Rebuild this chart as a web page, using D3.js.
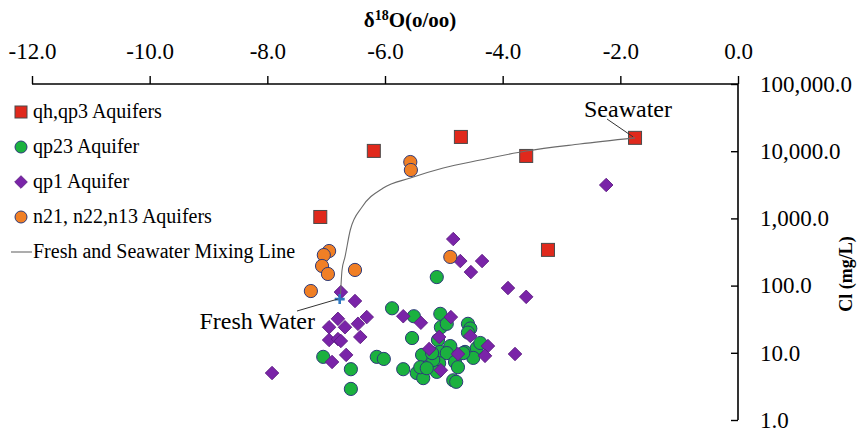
<!DOCTYPE html>
<html>
<head>
<meta charset="utf-8">
<script src="https://cdn.jsdelivr.net/npm/d3@7"></script>
<style>
body { margin: 0; background: #fff; }
svg { font-family: "Liberation Serif", "Times New Roman", serif; }
</style>
</head>
<body>
<div id="chart"></div>
<script>
var W = 860, H = 431;

// [d18O, Cl]
var qh = [[-1.75, 15800], [-3.60, 8500], [-4.71, 16300], [-6.19, 10100], [-7.10, 1050], [-3.23, 340]];

var qp23 = [[-5.88, 46], [-5.51, 35], [-5.54, 16.6], [-7.05, 8.7], [-6.58, 5.7], [-6.58, 2.9],
	[-6.14, 8.7], [-6.02, 8.1], [-5.69, 5.7], [-5.46, 5.0], [-5.12, 134], [-5.06, 38],
	[-5.05, 24], [-4.95, 27], [-4.59, 27], [-4.55, 23], [-4.59, 20], [-5.37, 9.3],
	[-5.35, 4.2], [-5.10, 15.5], [-5.06, 10.3], [-4.89, 12.6], [-4.95, 9.9], [-5.27, 6.1],
	[-5.08, 7.0], [-5.12, 5.2], [-4.81, 7.3], [-4.76, 6.1], [-4.64, 10.3], [-4.44, 11.8],
	[-4.50, 8.4], [-4.38, 14.0], [-4.84, 3.9], [-4.79, 3.7], [-5.18, 7.8], [-5.40, 6.1],
	[-5.20, 9.9], [-4.67, 9.9], [-5.29, 5.9]];

var qp1 = [[-6.75, 80], [-6.51, 59], [-6.31, 34], [-6.46, 27], [-6.80, 32], [-6.68, 24],
	[-6.95, 24], [-6.95, 15.5], [-6.80, 16.0], [-6.75, 15.0], [-6.42, 17.2], [-6.66, 9.3],
	[-6.90, 7.3], [-7.92, 5.0], [-5.69, 35], [-5.39, 28], [-4.84, 493], [-4.72, 232],
	[-4.35, 232], [-4.54, 159], [-3.91, 92], [-3.60, 68], [-4.88, 34], [-5.08, 17.2],
	[-5.25, 11.4], [-4.55, 17.8], [-4.25, 12.6], [-4.30, 9.0], [-4.76, 9.6], [-5.05, 5.5],
	[-3.79, 9.6], [-2.24, 3140]];

var n2 = [[-5.57, 6900], [-5.56, 5250], [-6.95, 327], [-7.04, 285], [-7.07, 196],
	[-6.97, 149], [-6.51, 171], [-7.26, 83], [-4.89, 267]];

// mixing line, points
var mixLine = [[-6.76, 63], [-6.73, 171], [-6.68, 267], [-6.59, 672], [-6.39, 1476],
	[-6.03, 2830], [-5.57, 3990], [-5.01, 5620], [-4.38, 7390], [-3.60, 10070],
	[-2.69, 12800], [-1.75, 15800]];

var freshWater = [-6.77, 63];
var seaWater = [-1.75, 15800];

var xTicks = [-12, -10, -8, -6, -4, -2, 0];
var yTicks = [1, 10, 100, 1000, 10000, 100000];

var legendNames = ["qh,qp3 Aquifers", "qp23 Aquifer", "qp1 Aquifer", "n21, n22,n13 Aquifers", "Fresh and Seawater Mixing Line"];

var red = "#e0291c", green = "#1bb13f", purple = "#7a24a8", orange = "#f07f25";
var edge = "#2d3a7a";

var x = d3.scaleLinear().domain([-12, 0]).range([32, 738]);
var y = d3.scaleLog().domain([1, 100000]).range([420, 84]);

var svg = d3.select("#chart").append("svg")
	.attr("width", W)
	.attr("height", H);

// top axis
var xAxis = d3.axisTop(x).tickValues(xTicks).tickSize(8).tickFormat(d3.format(".1f"));
var gx = svg.append("g").attr("transform", "translate(0," + y(100000) + ")").call(xAxis);
gx.select(".domain").attr("stroke", "#000").attr("stroke-width", 1.6).attr("d", "M" + x(-12) + ",0H" + x(0));
gx.selectAll(".tick line").attr("stroke", "#000").attr("stroke-width", 1.4);
gx.selectAll(".tick text")
	.attr("y", -25)
	.attr("fill", "#000")
	.style("font-size", "23px")
	.style("font-family", "Liberation Serif, serif")
	.text(d => d === 0 ? "0.0" : d3.format(".1f")(d).replace("−", "-"));

// right axis
var fmt = d3.format(",.1f");
var yAxis = d3.axisRight(y).tickValues(yTicks).tickSize(-7).tickFormat(d => fmt(d));
var gy = svg.append("g").attr("transform", "translate(" + x(0) + ",0)").call(yAxis);
gy.select(".domain").attr("stroke", "#000").attr("stroke-width", 1.6).attr("d", "M0," + y(100000) + "V" + y(1));
gy.selectAll(".tick line").attr("stroke", "#000").attr("stroke-width", 1.4);
gy.selectAll(".tick text")
	.attr("x", 22)
	.attr("fill", "#000")
	.style("font-size", "23px")
	.style("font-family", "Liberation Serif, serif");

// axis titles
var title = svg.append("text")
	.attr("x", 410)
	.attr("y", 27)
	.attr("text-anchor", "middle")
	.style("font-size", "21px")
	.style("font-weight", "bold");
title.append("tspan").text("δ");
title.append("tspan").attr("dy", -7).style("font-size", "14px").text("18");
title.append("tspan").attr("dy", 7).text("O(o/oo)");

svg.append("text")
	.attr("transform", "translate(852,274) rotate(-90)")
	.attr("text-anchor", "middle")
	.style("font-size", "18px")
	.style("font-weight", "bold")
	.text("Cl (mg/L)");

var plot = svg.append("g");

// series
plot.selectAll("rect.qh")
	.data(qh)
	.enter()
	.append("rect")
	.attr("class", "qh")
	.attr("x", d => x(d[0]) - 6.5)
	.attr("y", d => y(d[1]) - 6.5)
	.attr("width", 13)
	.attr("height", 13)
	.attr("fill", red)
	.attr("stroke", "#4a4a4a")
	.attr("stroke-width", 1);

plot.selectAll("circle.qp23")
	.data(qp23)
	.enter()
	.append("circle")
	.attr("class", "qp23")
	.attr("cx", d => x(d[0]))
	.attr("cy", d => y(d[1]))
	.attr("r", 6.6)
	.attr("fill", green)
	.attr("stroke", edge)
	.attr("stroke-width", 1);

var diamond = d3.symbol().type(d3.symbolSquare).size(92);
plot.selectAll("path.qp1")
	.data(qp1)
	.enter()
	.append("path")
	.attr("class", "qp1")
	.attr("d", diamond)
	.attr("transform", d => "translate(" + x(d[0]) + "," + y(d[1]) + ") rotate(45)")
	.attr("fill", purple)
	.attr("stroke", "#5a1a80")
	.attr("stroke-width", 0.8);

plot.selectAll("circle.n2")
	.data(n2)
	.enter()
	.append("circle")
	.attr("class", "n2")
	.attr("cx", d => x(d[0]))
	.attr("cy", d => y(d[1]))
	.attr("r", 6.6)
	.attr("fill", orange)
	.attr("stroke", edge)
	.attr("stroke-width", 1);

var line = d3.line()
	.x(d => x(d[0]))
	.y(d => y(d[1]))
	.curve(d3.curveMonotoneX);

plot.append("path")
	.datum(mixLine)
	.attr("d", line)
	.attr("fill", "none")
	.attr("stroke", "#6b6b6b")
	.attr("stroke-width", 1.1);

// fresh water marker
var fx = x(freshWater[0]), fy = y(freshWater[1]);
plot.append("path")
	.attr("d", "M" + (fx - 5) + "," + fy + "H" + (fx + 5) + "M" + fx + "," + (fy - 5) + "V" + (fy + 5))
	.attr("stroke", "#2f78c0")
	.attr("stroke-width", 2.6);

// annotations
svg.append("line")
	.attr("x1", 297).attr("y1", 311)
	.attr("x2", fx - 2).attr("y2", fy)
	.attr("stroke", "#333").attr("stroke-width", 1);
svg.append("text")
	.attr("x", 315)
	.attr("y", 329)
	.attr("text-anchor", "end")
	.style("font-size", "24px")
	.text("Fresh Water");

svg.append("line")
	.attr("x1", 607).attr("y1", 119)
	.attr("x2", x(seaWater[0]) - 2).attr("y2", y(seaWater[1]) - 1)
	.attr("stroke", "#333").attr("stroke-width", 1);
svg.append("text")
	.attr("x", 584)
	.attr("y", 117)
	.style("font-size", "24px")
	.text("Seawater");

// legend
var legendY = d3.scalePoint().domain(legendNames).range([112, 252]);
var leg = svg.append("g");
leg.selectAll("text")
	.data(legendNames)
	.enter()
	.append("text")
	.attr("x", 33)
	.attr("y", d => legendY(d) + 6)
	.style("font-size", "20px")
	.text(d => d);

leg.append("rect")
	.attr("x", 15).attr("y", legendY(legendNames[0]) - 6)
	.attr("width", 12).attr("height", 12)
	.attr("fill", red).attr("stroke", "#4a4a4a");
leg.append("circle")
	.attr("cx", 21).attr("cy", legendY(legendNames[1])).attr("r", 6)
	.attr("fill", green).attr("stroke", edge);
leg.append("path")
	.attr("d", d3.symbol().type(d3.symbolSquare).size(80))
	.attr("transform", "translate(21," + legendY(legendNames[2]) + ") rotate(45)")
	.attr("fill", purple).attr("stroke", "#5a1a80").attr("stroke-width", 0.8);
leg.append("circle")
	.attr("cx", 21).attr("cy", legendY(legendNames[3])).attr("r", 6)
	.attr("fill", orange).attr("stroke", edge);
leg.append("line")
	.attr("x1", 11).attr("x2", 32)
	.attr("y1", legendY(legendNames[4])).attr("y2", legendY(legendNames[4]))
	.attr("stroke", "#6b6b6b").attr("stroke-width", 1.1);
</script>
</body>
</html>
